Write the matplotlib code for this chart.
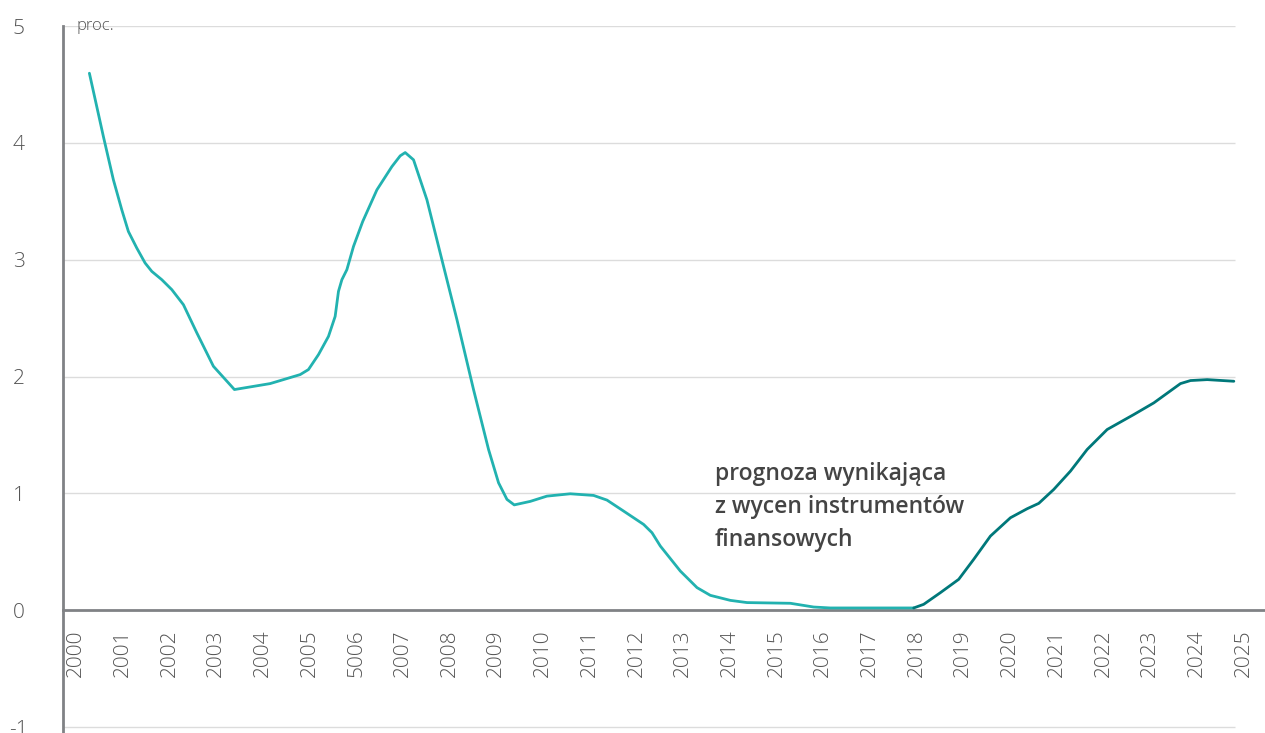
import matplotlib
matplotlib.use("Agg")
import matplotlib.pyplot as plt

# ---------------------------------------------------------------------------
# Data (year fraction, percent)
# ---------------------------------------------------------------------------
hist_years = [2000.285, 2000.585, 2000.799, 2000.979, 2001.120, 2001.300, 2001.478,
              2001.622, 2001.836, 2002.050, 2002.299, 2002.586, 2002.941, 2003.391,
              2004.156, 2004.799, 2004.976, 2005.191, 2005.405, 2005.548, 2005.619,
              2005.692, 2005.799, 2005.941, 2006.138, 2006.442, 2006.763, 2006.941,
              2007.048, 2007.226, 2007.513, 2007.798, 2008.156, 2008.511, 2008.833,
              2009.047, 2009.227, 2009.383, 2009.726, 2010.083, 2010.583, 2011.082,
              2011.369, 2011.725, 2012.153, 2012.333, 2012.511, 2012.939, 2013.297,
              2013.582, 2014.010, 2014.368, 2015.296, 2015.795, 2016.153, 2017.937]
hist_values = [4.596, 4.054, 3.684, 3.427, 3.242, 3.100, 2.972,
               2.900, 2.829, 2.744, 2.615, 2.374, 2.088, 1.889,
               1.940, 2.017, 2.060, 2.188, 2.344, 2.515, 2.729,
               2.829, 2.915, 3.114, 3.327, 3.598, 3.797, 3.889,
               3.917, 3.855, 3.513, 3.057, 2.487, 1.889, 1.376,
               1.091, 0.949, 0.902, 0.932, 0.977, 0.997, 0.983,
               0.943, 0.849, 0.735, 0.664, 0.550, 0.336, 0.194,
               0.128, 0.085, 0.066, 0.060, 0.028, 0.020, 0.020]

fcst_years = [2017.937, 2018.151, 2018.509, 2018.901, 2019.222, 2019.580, 2020.009,
              2020.366, 2020.615, 2020.936, 2021.294, 2021.651, 2022.080, 2022.650,
              2023.079, 2023.650, 2023.865, 2024.222, 2024.793]
fcst_values = [0.020, 0.051, 0.151, 0.265, 0.436, 0.635, 0.792,
               0.869, 0.915, 1.034, 1.191, 1.376, 1.547, 1.675,
               1.775, 1.940, 1.966, 1.974, 1.960]

tick_years = list(range(2000, 2026))
tick_labels = [str(y) for y in tick_years]
tick_labels[6] = "5006"  # as printed in the source chart

y_ticks = [-1, 0, 1, 2, 3, 4, 5]

note = "prognoza wynikająca\nz wycen instrumentów\nfinansowych"

# ---------------------------------------------------------------------------
# Figure
# ---------------------------------------------------------------------------
plt.rcParams["font.family"] = ["Open Sans", "DejaVu Sans"]

HIST_COLOR = "#22b2b0"
FCST_COLOR = "#00787a"
AXIS_GRAY = "#808285"
TEXT_GRAY = "#555555"

fig = plt.figure(figsize=(12.65, 7.33), dpi=100)
ax = fig.add_axes([63 / 1265, 0.0, 1 - 63 / 1265, 1 - 26 / 733])

ax.set_xlim(1999.72, 2025.46)
ax.set_ylim(-1.05, 5)

# horizontal gridlines stop short of the right edge
grid_right = 2024.82
for y in y_ticks:
    if y != 0:
        ax.hlines(y, 1999.72, grid_right, color="#dcdcdc", lw=1, zorder=1)

ax.plot(hist_years, hist_values, color=HIST_COLOR, lw=2, zorder=3,
        solid_capstyle="round", solid_joinstyle="round")
ax.plot(fcst_years, fcst_values, color=FCST_COLOR, lw=2, zorder=3,
        solid_capstyle="round", solid_joinstyle="round")

ax.text(2013.68, 1.265, note, fontsize=16.5, fontweight="semibold",
        color="#444444", va="top", ha="left", linespacing=1.5)

ax.text(2000.0, 5.0, "proc.", fontsize=12, color=TEXT_GRAY, va="center",
        ha="left", fontweight="light")

# spines
for side in ("top", "right"):
    ax.spines[side].set_visible(False)
ax.spines["left"].set_color(AXIS_GRAY)
ax.spines["left"].set_linewidth(2)
ax.spines["bottom"].set_position(("data", 0))
ax.spines["bottom"].set_color(AXIS_GRAY)
ax.spines["bottom"].set_linewidth(2)

ax.set_xticks(tick_years)
ax.set_xticklabels(tick_labels, rotation=90, fontsize=15, color=TEXT_GRAY,
                   fontweight="light")
ax.tick_params(axis="x", length=0, pad=14)

ax.set_yticks(y_ticks)
ax.set_yticklabels([str(v) for v in y_ticks], fontsize=15, color=TEXT_GRAY,
                   fontweight="light")
ax.tick_params(axis="y", length=0, pad=32)
for lbl in ax.get_yticklabels():
    lbl.set_horizontalalignment("center")

fig.savefig("out.png", dpi=100)
